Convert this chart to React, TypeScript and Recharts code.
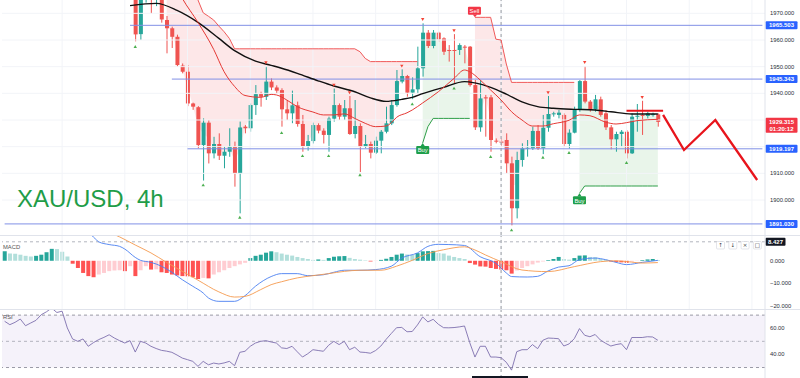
import React from 'react';
import { ComposedChart, Bar, Line, Area, XAxis, YAxis, ReferenceLine, ReferenceArea, Cell } from 'recharts';

type Pt = [number, number];

const SLOTS = 146;
const FIRST_CANDLE = 25;
const FONT = "'Liberation Sans', Arial, sans-serif";

// ---------- price candles (index 25 .. 125) ----------
const opens = [
  1977, 1962.2, 1976, 1978, 1976, 1977, 1967.5, 1964.4, 1961.2, 1950.4,
  1948.1, 1936.2, 1934.8, 1920.6, 1929, 1917.5, 1921, 1916.6, 1918.1, 1920,
  1910, 1927.5, 1926.9, 1935.6, 1939.7, 1938.7, 1944.4, 1942.2, 1941.2, 1934,
  1932.5, 1935.5, 1928.5, 1920.2, 1922.1, 1928.1, 1926, 1924.4, 1930.5, 1935.6,
  1931.25, 1934.4, 1924.75, 1927.75, 1920, 1921, 1917.75, 1922.25, 1925.6, 1928.75,
  1935.6, 1944.4, 1946.5, 1940.25, 1941.5, 1949.4, 1962.75, 1957.75, 1962.75, 1960.6,
  1956.25, 1956.25, 1956.25, 1957.5, 1957.5, 1943.1, 1927.25, 1938.5, 1938.5, 1922.25,
  1921.9, 1922.5, 1913.75, 1896.9, 1915, 1919.4, 1919.4, 1925.9, 1919.4, 1927.1,
  1932.25, 1931.9, 1931.9, 1921, 1925.25, 1934, 1944.6, 1936.9, 1934, 1937.75,
  1932.5, 1927.25, 1922.75, 1924.75, 1925.6, 1917.5, 1931.5, 1931.9, 1931.5, 1932.1,
  1932.1,
];
const highs = [
  1978, 1977.5, 1980, 1981, 1979, 1978, 1969, 1965, 1962, 1951.2,
  1950.6, 1936.5, 1935.2, 1930.6, 1930, 1923.7, 1925, 1920, 1926.9, 1921.9,
  1929.4, 1928.1, 1936.2, 1943.1, 1940.6, 1950.2, 1945.6, 1943, 1941.9, 1937.5,
  1941, 1936.9, 1931.9, 1924.4, 1929, 1928.75, 1926.9, 1931.25, 1941.8, 1936.2,
  1937.5, 1939, 1937.5, 1928.75, 1924.4, 1921.9, 1923.75, 1926.25, 1935, 1937.5,
  1948.75, 1949, 1946.9, 1946, 1957.5, 1966.25, 1963.75, 1963.75, 1963.1, 1961,
  1958.1, 1962.2, 1958.75, 1958.1, 1957.75, 1945, 1945, 1939.4, 1939.4, 1923.1,
  1923, 1925, 1916.25, 1918.1, 1921.25, 1922.5, 1927.5, 1928.1, 1931.9, 1939,
  1933.1, 1933.75, 1932.5, 1926.5, 1935, 1945, 1950.2, 1937.5, 1939.4, 1938.75,
  1933.75, 1928.1, 1925.6, 1926.25, 1926.25, 1932.5, 1936, 1937.2, 1933.1, 1932.75,
  1932.5,
];
const lows = [
  1959.5, 1960, 1974, 1970, 1972.7, 1966.5, 1955, 1957, 1950, 1947.5,
  1935.2, 1933.8, 1919.4, 1907.3, 1913.7, 1915.6, 1915, 1911.9, 1916.2, 1905,
  1895, 1925, 1925.6, 1931.9, 1935, 1937.5, 1941.2, 1940, 1927.5, 1930,
  1928.8, 1927.5, 1918.1, 1918.5, 1921.2, 1925, 1921.2, 1918.1, 1929.4, 1930,
  1930, 1924.4, 1923.1, 1910.5, 1919.4, 1915.6, 1917.25, 1917.5, 1925, 1928.1,
  1935, 1943.75, 1938.75, 1937.8, 1940, 1946.25, 1957, 1956.9, 1959.4, 1954.4,
  1951.9, 1943.5, 1954.4, 1951.25, 1942.5, 1926.25, 1925.6, 1923.75, 1918.1, 1921.25,
  1920, 1910, 1890.5, 1893.1, 1912.5, 1916.25, 1918.75, 1918.75, 1917.2, 1925.6,
  1931.25, 1930.6, 1920, 1919.3, 1925, 1933.1, 1936.25, 1933.1, 1933.1, 1931.25,
  1926.25, 1919, 1918.1, 1920, 1915.6, 1917.25, 1925.6, 1924.4, 1930.6, 1931.25,
  1927.5,
];
const closes = [
  1962.1, 1976, 1978, 1976, 1977, 1967.7, 1964.4, 1961.2, 1950.6, 1948.1,
  1936.2, 1935, 1920.6, 1929, 1917.5, 1921, 1916.6, 1918.1, 1920, 1910,
  1927.2, 1926.9, 1935.6, 1939.7, 1938.7, 1944.4, 1942.2, 1941, 1934, 1932.5,
  1935.5, 1928.5, 1920.2, 1922.1, 1928.1, 1926, 1924.4, 1930.5, 1935.6, 1931.25,
  1934.4, 1924.75, 1927.75, 1920, 1921, 1917.75, 1922.25, 1925.6, 1928.75, 1935.6,
  1944.6, 1946.5, 1940.25, 1941.5, 1949.4, 1962.75, 1957.75, 1962.75, 1960.25, 1955.6,
  1956, 1956, 1958.1, 1957.2, 1943.1, 1927.25, 1938.1, 1938.1, 1922.5, 1921.9,
  1921.5, 1913.75, 1896.9, 1915, 1919.4, 1919.6, 1925.9, 1919.4, 1927.1, 1932.25,
  1932.5, 1932.75, 1921, 1925.25, 1934, 1944.6, 1936.9, 1933.75, 1937.75, 1931.9,
  1927.25, 1922.75, 1924.75, 1925.6, 1917.5, 1931.25, 1931.6, 1931.75, 1932.5, 1932.2,
  1929.3,
];

// ---------- overlays on price ----------
const smaPts: Pt[] = [
  [24, 1972.9], [29, 1973.75], [33, 1971.1], [37, 1966.6], [41, 1960.6], [44, 1956], [48, 1952.1],
  [51, 1950.5], [53, 1949.4], [56, 1947.5], [60, 1944.7], [63, 1942.75], [67, 1940.6], [70, 1938.3],
  [73, 1937], [76, 1937.75], [78, 1938.5], [80, 1939.9], [84, 1942.25], [88, 1944.4], [90, 1943.9],
  [93, 1942.25], [96, 1939.7], [99, 1936.8], [102, 1935], [105, 1934.4], [109, 1934], [113, 1933.75],
  [116, 1933.1], [120, 1932.25], [125, 1932.25],
];
const emaPts: Pt[] = [
  [32, 1983], [34, 1975.6], [37, 1966.6], [40, 1956.5], [42, 1948.1], [44, 1942.6], [46, 1939.2],
  [49, 1938.5], [51, 1939.6], [52, 1939.4], [54, 1937.5], [56, 1935], [59, 1933], [61, 1931.9],
  [63, 1931.9], [65, 1932.3], [67, 1930.6], [69, 1928.75], [71, 1927.5], [73, 1927.75], [74, 1929],
  [75, 1931], [77, 1932.7], [78, 1933.75], [80, 1936.4], [83, 1940.6], [86, 1945.6], [88, 1948.75],
  [89, 1948.1], [91, 1945], [93, 1941.25], [95, 1937.5], [97, 1933.1], [99, 1930], [101, 1927.75],
  [103, 1927.75], [105, 1928.6], [108, 1929.9], [110, 1931.9], [112, 1931.6], [115, 1929.2],
  [117, 1928.5], [119, 1929], [121, 1929.75], [125, 1930.25],
];
// supertrend segments
const stDown1Start = 31;
const stDown1 = [
  1995, 1991, 1987, 1983, 1980, 1977.5, 1975, 1970.2, 1968.9, 1967.5, 1965.2, 1963.1, 1960.6,
  1956.7, 1956.7, 1956.7, 1956.7, 1956.7, 1956.7, 1956.7, 1956.7, 1956.7, 1956.7, 1956.7, 1956.7,
  1956.7, 1956.7, 1956.7, 1956.7, 1956.7, 1956.7, 1956.7, 1956.7, 1956.7, 1956.7, 1956.7, 1956.7,
  1955.6, 1953.1, 1951.9, 1951.9, 1951.9, 1951.9, 1951.9, 1951.9, 1951.9, 1951.9, 1951.9, 1951.9,
];
const stUp1Start = 80;
const stUp1 = [1921.4, 1927.5, 1930.6, 1930.6, 1930.6, 1930.6, 1930.6, 1930.6, 1930.6, 1930.6];
const stDown2Start = 90;
const stDown2 = [
  1968.5, 1968.5, 1968.5, 1968.5, 1960.3, 1960, 1951, 1944.1, 1944.1, 1944.1, 1944.1, 1944.1,
  1944.1, 1944.1, 1944.1, 1944.1, 1944.1, 1944.1, 1944.1, 1944.1,
];
const stUp2Start = 110;
const stUp2 = [
  1902.5, 1905.25, 1905.25, 1905.25, 1905.25, 1905.25, 1905.25, 1905.25, 1905.25, 1905.25,
  1905.25, 1905.25, 1905.25, 1905.25, 1905.25, 1905.25,
];
const fractalUp: Pt[] = [
  [50, 1951.5], [63, 1943.1], [66, 1940.25], [76, 1950.25], [80, 1967.75], [86, 1963.5],
  [104, 1940.25], [111, 1951.6], [122, 1938.5],
];
const fractalDown: Pt[] = [
  [25, 1957.5], [38, 1905.6], [45, 1893.5], [53, 1925.2], [57, 1916.6], [62, 1916.6], [68, 1909.4],
  [78, 1936], [86, 1941.9], [93, 1916.25], [97, 1888.75], [103, 1916], [108, 1917.75], [119, 1914],
];
const buySignals: Pt[] = [[80, 1921.4], [110, 1902.5]];
const sellSignals: Pt[] = [[90, 1968.5]];
const projection: Pt[] = [[126, 1931.9], [130, 1918.75], [136, 1930], [144, 1907.5]];
const resistance = { from: 119, to: 126, price: 1933.5 };
const levelPrices = [1965.503, 1945.343, 1919.197, 1891.03];
const levelStarts = [24, 32, 35, 0];
const lastPrice = 1929.315;
const countdown = '01:20:12';
const priceTicks = [1900, 1910, 1940, 1950, 1960, 1970];
const priceGrid = [1900, 1910, 1920, 1930, 1940, 1950, 1960, 1970];
const vGrid = [11, 23, 35, 47, 59, 71, 83, 95, 107, 119, 131, 143];
const crossIdx = 95;
const crossMacd = 8.427;

// ---------- MACD (index 0 .. 125) ----------
const macdHist = [
  4.2, 3.2, 3.1, 2.7, 2.2, 1.9, 2.2, 2.7, 3.8, 5.3,
  5.2, 4.0, 1.9, -1.3, -3.2, -5.4, -6.8, -7.3, -6.1, -5.4,
  -4.6, -4.3, -4.2, -4.6, -2.4, -6.8, -4.2, -2.4, -3.9, -3.8,
  -5.1, -5.4, -6.1, -6.5, -6.8, -6.9, -7.3, -8.1, -7.6, -7.8,
  -6.1, -5.1, -4.2, -3.2, -2.4, -1.6, -0.9, 1.2, 2.2, 2.7,
  3.6, 4.2, 3.8, 3.2, 2.7, 2.3, 1.7, 1.2, 0.8, 0.4,
  0.6, 0.4, 1.2, 1.8, 2.0, 2.1, 1.3, 0.8, 0.5, 0.2,
  -0.3, -0.1, 0.4, 0.9, 1.7, 2.7, 3.2, 2.8, 2.6, 3.4,
  4.2, 4.3, 4.4, 3.4, 3.2, 2.3, 1.7, 1.2, 0.8, -1.0,
  -1.7, -2.5, -2.6, -3.2, -3.6, -3.9, -4.2, -5.7, -4.3, -3.2,
  -2.4, -1.6, -0.8, -0.3, 0.3, 0.8, 1.7, 0.8, 0.5, 1.2,
  2.3, 2.4, 1.7, 1.6, 0.8, 0.5, -0.3, -0.5, -0.7, -0.9,
  -0.4, -0.1, 0.3, 0.6, 0.8, 0.3,
];
const macdPts: Pt[] = [
  [15, 13.5], [17, 10.6], [18, 8.4], [20, 7.2], [22, 6.4], [23, 5.2], [25, 1.5], [26, 0.2], [28, -0.7],
  [30, -2.4], [32, -5.1], [34, -8.4], [36, -11.3], [38, -14.3], [39, -16.5], [41, -18], [44, -18],
  [46, -15.5], [48, -11.3], [51, -7], [53, -5.7], [56, -5.7], [58, -6.6], [61, -6.2], [63, -5.1],
  [65, -4.2], [68, -4.2], [71, -3.9], [74, -2.4], [76, 1.2], [79, 3.5], [81, 6.4], [83, 7.3], [85, 7.2],
  [88, 6.8], [91, 1.8], [94, -1.1], [96, -5.4], [97, -7.0], [100, -7.2], [102, -6.9], [104, -4.5],
  [106, -2.8], [108, -2.2], [110, 0.5], [113, 1.2], [115, 0.5], [117, -0.7], [119, -1.7], [122, -0.7],
  [125, 0.2],
];
const signalPts: Pt[] = [
  [19, 13.5], [22, 10.6], [25, 7.0], [28, 3.5], [31, -0.7], [34, -4.7], [37, -8.6], [41, -13.8],
  [44, -16.1], [46, -15.8], [49, -12.8], [51, -10.6], [53, -9.3], [56, -7.6], [59, -6.6], [62, -5.7],
  [65, -4.7], [68, -4.2], [72, -4.2], [75, -2.4], [78, 0.2], [81, 3.2], [84, 4.9], [88, 6.2], [90, 4.8],
  [92, 2.6], [95, -0.4], [99, -4.1], [104, -4.8], [109, -2.6], [114, -0.4], [117, 0.0], [120, -0.6],
  [122, -1.0], [125, -0.8],
];
const macdTicks = [0, -10, -20];

// ---------- RSI (index 0 .. 125) ----------
const rsiVals = [
  65.3, 62.7, 64.5, 67, 61.9, 64, 66, 70.3, 72.5, 75.4,
  72, 73, 60.2, 51.8, 50, 51.8, 46.2, 49, 51.3, 53,
  55, 52.5, 50.5, 48.7, 50.5, 41.8, 50, 48.7, 46.2, 44.5,
  43.1, 42.5, 41.6, 39.5, 37.2, 36, 34.7, 30.9, 34.7, 32.1,
  33.4, 32.7, 33.5, 34.7, 31.4, 41.6, 42.4, 46.2, 48.7, 50,
  50.5, 49.5, 48.7, 45, 44.5, 46.2, 42, 38, 40.5, 43.6,
  43, 42.4, 47, 50, 47.5, 50, 43.6, 45.5, 41.8, 41.5,
  40.9, 43, 46.4, 51.5, 56, 60.4, 60.6, 57.3, 57.5, 62.5,
  68.6, 64.8, 66.8, 63, 60.4, 60.3, 60.5, 61, 61.7, 49,
  38, 46.2, 46.2, 38, 38, 37.5, 34, 28, 42.1, 43.6,
  43.6, 47.5, 44.4, 50.8, 52.5, 52.3, 52, 46.4, 48, 52,
  59.7, 54.6, 53.5, 55.2, 51, 48.5, 46.4, 47.5, 48.2, 43.6,
  52.9, 52.9, 52.9, 53.5, 53.3, 50.8,
];
const rsiTicks = [60, 40];

// ---------- scales ----------
const P_MAX = 1975;
const P_MIN = 1886.875;
const M_MAX = 11.0;
const M_MIN = -21.4;
const R_MAX = 73.9;
const R_MIN = 22;

// ---------- build tables ----------
const mapOf = (pts: Pt[]) => {
  const m = new Map<number, number>();
  pts.forEach(([i, v]) => m.set(i, v));
  return m;
};
const segVal = (i: number, start: number, vals: number[]) =>
  i >= start && i < start + vals.length ? vals[i - start] : null;

const smaM = mapOf(smaPts), emaM = mapOf(emaPts), fuM = mapOf(fractalUp), fdM = mapOf(fractalDown);
const buyM = mapOf(buySignals), sellM = mapOf(sellSignals), projM = mapOf(projection);

const priceRows = Array.from({ length: SLOTS }, (_, i) => {
  const k = i - FIRST_CANDLE;
  const has = k >= 0 && k < opens.length;
  const o = has ? opens[k] : null;
  const h = has ? highs[k] : null;
  const l = has ? lows[k] : null;
  const c = has ? closes[k] : null;
  let candle: number[] | null = null;
  if (has) {
    const lo = Math.max(l as number, P_MIN);
    const hi = Math.min(h as number, P_MAX);
    if (hi - lo > 0.01) candle = [lo, hi];
  }
  const mid = has ? ((o as number) + (c as number)) / 2 : null;
  const dn = segVal(i, stDown1Start, stDown1) ?? segVal(i, stDown2Start, stDown2);
  const up = segVal(i, stUp1Start, stUp1) ?? segVal(i, stUp2Start, stUp2);
  return {
    i, o, h, l, c, candle,
    sma: smaM.get(i) ?? null,
    ema: emaM.get(i) ?? null,
    stDn: dn,
    stUp: up,
    fillDn: dn != null && mid != null ? [mid, dn] : null,
    fillUp: up != null && mid != null ? [up, mid] : null,
    fUp: fuM.get(i) ?? null,
    fDn: fdM.get(i) ?? null,
    buy: buyM.get(i) ?? null,
    sell: sellM.get(i) ?? null,
    proj: projM.get(i) ?? null,
  };
});

const macdM = mapOf(macdPts), sigM = mapOf(signalPts);
const histColor = (k: number) => {
  const v = macdHist[k];
  const prev = k > 0 ? macdHist[k - 1] : v;
  if (v >= 0) return v >= prev ? '#26a69a' : '#b2dfdb';
  return v < prev ? '#ff5252' : '#ffcdd2';
};
const macdRows = Array.from({ length: SLOTS }, (_, i) => ({
  i,
  hist: i < macdHist.length ? macdHist[i] : null,
  col: i < macdHist.length ? histColor(i) : '#fff',
  macd: macdM.get(i) ?? null,
  signal: sigM.get(i) ?? null,
}));
const rsiRows = Array.from({ length: SLOTS }, (_, i) => ({ i, rsi: i < rsiVals.length ? rsiVals[i] : null }));

// ---------- shapes ----------
const Candle = (props: any) => {
  const { x, y, width, height, payload } = props;
  if (!payload || payload.candle == null) return <g />;
  const [lo, hi] = payload.candle;
  const top = Math.min(y, y + height);
  const bot = Math.max(y, y + height);
  const ppu = (bot - top) / (hi - lo);
  const py = (p: number) => top + (hi - p) * ppu;
  const up = payload.c >= payload.o;
  const color = up ? '#26a69a' : '#ef5350';
  const cx = x + width / 2;
  const bTop = py(Math.max(payload.o, payload.c));
  const bBot = py(Math.min(payload.o, payload.c));
  return (
    <g>
      <line x1={cx} x2={cx} y1={py(payload.h)} y2={py(payload.l)} stroke={color} strokeWidth={1} />
      <rect x={x} y={bTop} width={width} height={Math.max(1, bBot - bTop)} fill={color} />
    </g>
  );
};

const TriUp = (p: any) => {
  if (p.value == null || p.cy == null) return <g key={p.index} />;
  const { cx, cy } = p;
  return <path key={p.index} d={`M${cx},${cy - 1.6} L${cx + 1.7},${cy + 1.3} L${cx - 1.7},${cy + 1.3}Z`} fill="#4caf50" />;
};
const TriDown = (p: any) => {
  if (p.value == null || p.cy == null) return <g key={p.index} />;
  const { cx, cy } = p;
  return <path key={p.index} d={`M${cx},${cy + 1.6} L${cx + 1.7},${cy - 1.3} L${cx - 1.7},${cy - 1.3}Z`} fill="#f44336" />;
};
const BuyTag = (p: any) => {
  if (p.value == null || p.cy == null) return <g key={p.index} />;
  const { cx, cy } = p;
  return (
    <g key={p.index}>
      <path d={`M${cx},${cy} L${cx + 2.2},${cy + 3.2} L${cx - 2.2},${cy + 3.2}Z`} fill="#1e9e4a" />
      <rect x={cx - 6.5} y={cy + 3} width={13} height={8} rx={1} fill="#1e9e4a" />
      <text x={cx} y={cy + 9.3} fontSize={5.8} fontFamily={FONT} fill="#fff" textAnchor="middle">Buy</text>
    </g>
  );
};
const SellTag = (p: any) => {
  if (p.value == null || p.cy == null) return <g key={p.index} />;
  const { cx, cy } = p;
  return (
    <g key={p.index}>
      <path d={`M${cx},${cy} L${cx + 2.2},${cy - 2.8} L${cx - 2.2},${cy - 2.8}Z`} fill="#f23645" />
      <rect x={cx - 7} y={cy - 10.5} width={13} height={8} rx={1} fill="#f23645" />
      <text x={cx - 0.5} y={cy - 4.3} fontSize={5.8} fontFamily={FONT} fill="#fff" textAnchor="middle">Sell</text>
    </g>
  );
};

const tag = (text: string, bg: string, w = 32, text2?: string) => (props: any) => {
  const vb = props.viewBox;
  if (!vb) return <g />;
  const x = vb.x + vb.width;
  const y = vb.y;
  const h = text2 ? 15 : 8;
  return (
    <g>
      <rect x={x + 0.5} y={y - 4} width={w} height={h} rx={1} fill={bg} />
      <text x={x + 0.5 + w / 2} y={y + 2.1} fontSize={6} fontWeight="bold" fontFamily={FONT} fill="#fff" textAnchor="middle">{text}</text>
      {text2 ? (
        <text x={x + 0.5 + w / 2} y={y + 9} fontSize={6} fontWeight="bold" fontFamily={FONT} fill="#fff" textAnchor="middle">{text2}</text>
      ) : null}
    </g>
  );
};

const axisTick = { fontSize: 5.8, fill: '#2a2e39', fontFamily: FONT };
const minus = (v: number, d: number) => (v < 0 ? '\u2212' : '') + Math.abs(v).toFixed(d);

export default function App() {
  return (
    <div style={{ position: 'absolute', left: 0, top: 0, width: 800, height: 378, background: '#fff', overflow: 'hidden' }}>
      {/* price pane */}
      <div style={{ position: 'absolute', left: 0, top: 0 }}>
        <ComposedChart width={800} height={235} data={priceRows} margin={{ top: 0, right: 0, bottom: 0, left: 2 }}>
          <XAxis dataKey="i" type="category" scale="band" hide />
          <YAxis
            orientation="right" width={35} domain={[P_MIN, P_MAX]} allowDataOverflow ticks={priceTicks} interval={0}
            tickFormatter={(v: number) => v.toFixed(3)} tick={axisTick} tickLine={false} tickSize={0} tickMargin={5}
            axisLine={{ stroke: '#e0e3eb' }}
          />
          {priceGrid.map((p) => <ReferenceLine key={'g' + p} y={p} stroke="#f2f4f8" />)}
          {vGrid.map((i) => <ReferenceLine key={'v' + i} x={i} stroke="#f2f4f8" />)}
          <Area dataKey="fillDn" type="linear" fill="#f23645" fillOpacity={0.12} stroke="none" isAnimationActive={false} />
          <Area dataKey="fillUp" type="linear" fill="#4caf50" fillOpacity={0.12} stroke="none" isAnimationActive={false} />
          {levelPrices.map((p, k) => (
            <ReferenceLine key={'l' + p} segment={[{ x: levelStarts[k], y: p }, { x: SLOTS - 1, y: p }]} stroke="#8190e6" strokeWidth={1} />
          ))}
          <ReferenceLine x={crossIdx} stroke="#9598a1" strokeDasharray="3 3" />
          <Line dataKey="sma" type="monotone" stroke="#111" strokeWidth={1.4} dot={false} connectNulls isAnimationActive={false} />
          <Line dataKey="ema" type="monotone" stroke="#e53935" strokeWidth={1} dot={false} connectNulls isAnimationActive={false} />
          <Line dataKey="stDn" type="linear" stroke="#f05a5a" strokeWidth={1} dot={false} isAnimationActive={false} />
          <Line dataKey="stUp" type="linear" stroke="#2e9e48" strokeWidth={1} dot={false} isAnimationActive={false} />
          <Bar dataKey="candle" barSize={4} shape={Candle} isAnimationActive={false} />
          <Line dataKey="fUp" stroke="none" strokeWidth={0} dot={TriDown} activeDot={false} isAnimationActive={false} />
          <Line dataKey="fDn" stroke="none" strokeWidth={0} dot={TriUp} activeDot={false} isAnimationActive={false} />
          <Line dataKey="buy" stroke="none" strokeWidth={0} dot={BuyTag} activeDot={false} isAnimationActive={false} />
          <Line dataKey="sell" stroke="none" strokeWidth={0} dot={SellTag} activeDot={false} isAnimationActive={false} />
          <ReferenceLine
            segment={[{ x: resistance.from, y: resistance.price }, { x: resistance.to, y: resistance.price }]}
            stroke="#e8141c" strokeWidth={2}
          />
          <Line dataKey="proj" type="linear" stroke="#e8141c" strokeWidth={2.3} dot={false} connectNulls isAnimationActive={false} />
          {levelPrices.map((p) => (
            <ReferenceLine key={'t' + p} y={p} stroke="none" strokeOpacity={0} label={tag(p.toFixed(3), '#2962ff')} />
          ))}
          <ReferenceLine y={lastPrice} stroke="none" strokeOpacity={0} label={tag(lastPrice.toFixed(3), '#f23645', 32, countdown)} />
        </ComposedChart>
      </div>

      {/* MACD pane */}
      <div style={{ position: 'absolute', left: 0, top: 236 }}>
        <ComposedChart width={800} height={73} data={macdRows} margin={{ top: 0, right: 0, bottom: 0, left: 2 }} barCategoryGap="14%">
          <XAxis dataKey="i" type="category" scale="band" hide />
          <YAxis
            orientation="right" width={35} domain={[M_MIN, M_MAX]} allowDataOverflow ticks={macdTicks} interval={0}
            tickFormatter={(v: number) => minus(v, 3)} tick={axisTick} tickLine={false} tickSize={0} tickMargin={5}
            axisLine={{ stroke: '#e0e3eb' }}
          />
          {vGrid.map((i) => <ReferenceLine key={'mv' + i} x={i} stroke="#f2f4f8" />)}
          <ReferenceLine x={crossIdx} stroke="#9598a1" strokeDasharray="3 3" />
          <ReferenceLine y={crossMacd} stroke="#b2b5be" strokeDasharray="3 3" label={tag(crossMacd.toFixed(3), '#131722', 20)} />
          <Bar dataKey="hist" isAnimationActive={false}>
            {macdRows.map((r) => <Cell key={'c' + r.i} fill={r.col} />)}
          </Bar>
          <Line dataKey="macd" type="monotone" stroke="#4a7ff0" strokeWidth={0.9} dot={false} connectNulls isAnimationActive={false} />
          <Line dataKey="signal" type="monotone" stroke="#f59a4e" strokeWidth={0.9} dot={false} connectNulls isAnimationActive={false} />
        </ComposedChart>
      </div>

      {/* RSI pane */}
      <div style={{ position: 'absolute', left: 0, top: 310 }}>
        <ComposedChart width={800} height={68} data={rsiRows} margin={{ top: 0, right: 0, bottom: 0, left: 2 }}>
          <XAxis dataKey="i" type="category" scale="band" hide />
          <YAxis
            orientation="right" width={35} domain={[R_MIN, R_MAX]} allowDataOverflow ticks={rsiTicks} interval={0}
            tickFormatter={(v: number) => v.toFixed(2)} tick={axisTick} tickLine={false} tickSize={0} tickMargin={5}
            axisLine={{ stroke: '#e0e3eb' }}
          />
          <ReferenceArea y1={30} y2={70} fill="#7e57c2" fillOpacity={0.08} stroke="none" />
          <ReferenceLine y={70} stroke="#9a9aa6" strokeDasharray="3 3" />
          <ReferenceLine y={50} stroke="#b4b4be" strokeDasharray="3 3" />
          <ReferenceLine y={30} stroke="#9a9aa6" strokeDasharray="3 3" />
          <ReferenceLine x={crossIdx} stroke="#9598a1" strokeDasharray="3 3" />
          <Line dataKey="rsi" type="linear" stroke="#7e6fae" strokeWidth={0.9} dot={false} isAnimationActive={false} />
        </ComposedChart>
      </div>

      {/* static chrome */}
      <svg width={800} height={378} style={{ position: 'absolute', left: 0, top: 0, pointerEvents: 'none' }}>
        <text x={17} y={207} fontSize={24} fontFamily={FONT} fill="#1f9d48">XAU/USD, 4h</text>
        <line x1={0} x2={800} y1={235.5} y2={235.5} stroke="#e0e3eb" />
        <line x1={0} x2={800} y1={309.5} y2={309.5} stroke="#e0e3eb" />
        <text x={3} y={248.5} fontSize={5.8} fontFamily={FONT} fill="#555">MACD</text>
        <text x={3} y={319} fontSize={5.8} fontFamily={FONT} fill="#555">RSI</text>
        {['\u2191', '\u2193', '\u00d7', '\u25a1'].map((g, k) => (
          <g key={g}>
            <rect x={716.5 + k * 12.3} y={241.5} width={8} height={7.5} rx={1} fill="#fff" stroke="#d1d4dc" strokeWidth={0.6} />
            <text x={720.5 + k * 12.3} y={247.4} fontSize={5.5} fontFamily="'DejaVu Sans', sans-serif" fill="#333" textAnchor="middle">{g}</text>
          </g>
        ))}
        <rect x={472} y={376} width={56} height={2} fill="#131722" />
      </svg>
    </div>
  );
}
